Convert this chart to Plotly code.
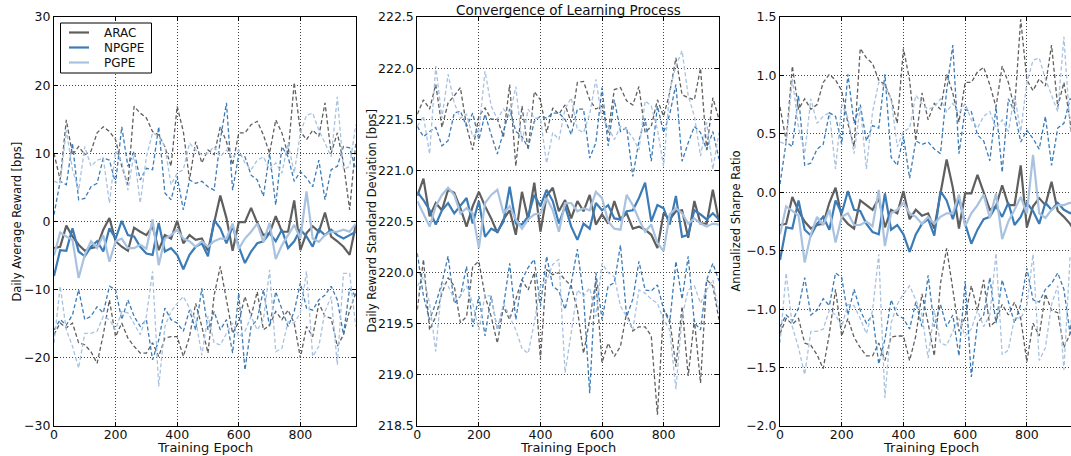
import plotly.graph_objects as go

# ---------------- data ----------------
epochs = list(range(0, 1000, 20))
algorithms = ["ARAC", "NPGPE", "PGPE"]

# Panel 1: Daily Average Reward [bps]
reward_arac_mean = [-3.9, -3.7, -0.6, -2.2, -3.4, -4.3, -3.9, -3.7, -1.2, 0.5,
                    -2.9, -3.7, -4.3, -0.9, -1.5, -2.0, -0.7, -4.2, -2.0, -2.5,
                    0.1, -3.2, -2.0, -2.7, -2.5, -4.3, -0.2, 3.8, 0.5, -4.3,
                    -0.1, -0.1, 2.0, -0.2, -2.0, -1.7, 0.8, -1.5, -1.5, 3.1,
                    -4.2, -1.7, -0.7, -1.5, 1.3, -2.2, -2.9, -3.7, -4.9, -0.5]
reward_arac_upper = [10.0, 6.1, 14.9, 9.8, 11.0, 9.8, 10.3, 13.0, 13.9, 13.2,
                     12.0, 8.1, 5.4, 16.9, 15.9, 15.2, 13.2, 12.7, 11.0, 8.1,
                     16.9, 13.2, 6.1, 11.7, 8.6, 10.5, 9.8, 13.9, 11.7, 8.3,
                     13.0, 13.0, 14.2, 14.7, 12.7, 10.0, 14.9, 13.0, 9.8, 20.4,
                     13.2, 12.0, 13.4, 12.5, 17.4, 10.0, 13.0, 8.6, 1.7, 11.5]
reward_arac_lower = [-16.6, -14.9, -15.6, -14.9, -17.8, -18.1, -19.1, -20.8, -16.6, -11.5,
                     -16.9, -14.9, -17.1, -18.3, -19.3, -19.3, -17.8, -19.8, -17.1, -16.9,
                     -16.9, -19.8, -16.9, -12.0, -15.4, -19.3, -10.8, -6.6, -11.5, -16.4,
                     -14.7, -11.0, -13.9, -10.3, -15.9, -15.2, -13.2, -14.4, -13.0, -14.9,
                     -20.0, -15.4, -16.9, -12.0, -13.9, -14.2, -18.3, -16.6, -13.0, -10.5]
reward_npgpe_mean = [-8.0, -4.2, -4.3, -1.0, -4.4, -5.1, -3.7, -2.9, -4.4, -1.0,
                     -2.5, 0.1, -2.0, -2.2, -3.7, -4.7, -4.9, -0.2, -4.4, -3.9,
                     -4.9, -7.0, -4.9, -3.7, -3.2, -5.1, 0.2, -1.0, -3.2, -0.7,
                     -3.7, -6.1, -4.4, -3.2, -2.9, -1.7, -2.9, -1.2, -3.9, -2.9,
                     -1.2, -2.2, -3.7, -1.2, -2.0, -1.2, -2.0, -2.5, -2.0, -1.5]
reward_npgpe_upper = [1.0, 5.9, 5.4, 11.5, 3.2, 3.4, 5.1, 5.6, 9.3, 9.0,
                      5.6, 13.9, 8.1, 10.3, 6.1, 7.8, 7.6, 13.9, 4.2, 3.2,
                      6.6, 1.7, 6.1, 5.6, 5.9, 5.1, 4.6, 12.0, 17.4, 4.6,
                      9.8, 9.5, 6.8, 6.1, 3.7, 10.0, 2.4, 11.0, 9.5, 5.9,
                      7.3, 6.4, 5.1, 9.0, 3.2, 7.6, 8.1, 11.0, 10.8, 7.6]
reward_npgpe_lower = [-15.9, -14.4, -15.2, -13.7, -10.0, -14.4, -13.9, -12.5, -13.4, -9.5,
                      -10.0, -14.4, -11.5, -13.9, -15.4, -14.4, -20.3, -17.4, -12.7, -14.4,
                      -14.9, -16.1, -13.0, -15.9, -9.8, -15.9, -13.2, -15.9, -14.4, -19.3,
                      -10.5, -21.8, -15.4, -14.4, -10.0, -15.4, -10.3, -13.0, -15.4, -13.2,
                      -9.0, -12.7, -13.0, -11.5, -10.8, -9.5, -11.5, -16.6, -9.8, -11.0]
reward_pgpe_mean = [-5.0, -1.6, -2.2, -2.7, -8.3, -4.9, -2.9, -3.9, -2.0, -5.9,
                    -2.9, -2.5, -3.9, -3.9, -3.4, -4.0, 0.3, -6.4, -2.5, -2.0,
                    -1.2, -2.5, -2.9, -3.7, -2.9, -3.7, -2.9, -2.5, -2.5, -0.3,
                    -4.0, -2.5, -1.5, -0.3, -3.0, -0.2, -5.5, -3.5, -2.0, -0.5,
                    -2.5, 4.4, -2.5, -3.0, -2.0, -1.5, -1.5, -1.2, -1.5, -0.3]
reward_pgpe_upper = [5.9, 5.6, 13.4, 7.6, 4.6, 11.0, 8.1, 9.0, 9.3, 2.7,
                     10.3, 8.8, 4.6, 10.0, 2.7, 9.5, 13.0, 12.5, 11.0, 5.4,
                     7.1, 7.6, 11.5, 10.5, 9.8, 10.0, 11.0, 9.5, 10.5, 9.3,
                     10.5, 8.6, 7.6, 9.0, 9.5, 7.6, 8.6, 7.1, 11.5, 7.1,
                     13.0, 15.6, 15.9, 13.4, 11.5, 9.5, 18.3, 7.6, 8.1, 14.2]
reward_pgpe_lower = [-17.8, -9.5, -15.9, -18.3, -21.5, -16.4, -16.4, -16.1, -13.9, -14.4,
                     -15.9, -13.2, -13.4, -14.9, -16.6, -13.9, -7.3, -24.2, -15.4, -13.2,
                     -12.0, -11.0, -12.7, -14.4, -19.6, -13.9, -17.8, -18.1, -16.4, -14.9,
                     -16.9, -16.1, -13.9, -15.9, -14.4, -7.1, -19.1, -18.6, -14.7, -14.9,
                     -13.4, -7.3, -19.8, -18.3, -13.2, -11.0, -21.0, -7.6, -7.6, -15.4]

# Panel 2: Daily Reward Standard Deviation [bps]
std_arac_mean = [220.75, 220.92, 220.55, 220.68, 220.61, 220.81, 220.78, 220.63, 220.45, 220.65,
                 220.79, 220.65, 220.53, 220.39, 220.52, 220.61, 220.37, 220.79, 220.52, 220.88,
                 220.40, 220.75, 220.83, 220.60, 220.71, 220.53, 220.70, 220.60, 220.76, 220.47,
                 220.57, 220.48, 220.70, 220.52, 220.58, 220.43, 220.45, 220.42, 220.37, 220.24,
                 220.58, 220.52, 220.60, 220.61, 220.34, 220.70, 220.48, 220.48, 220.81, 220.50]
std_arac_upper = [221.55, 221.69, 221.60, 221.84, 221.42, 221.66, 221.73, 221.81, 221.43, 221.20,
                  221.53, 221.61, 221.50, 221.50, 221.33, 221.84, 221.04, 221.63, 221.20, 221.77,
                  221.69, 221.37, 221.61, 221.55, 221.64, 221.47, 221.86, 221.87, 221.69, 221.60,
                  221.63, 221.37, 221.79, 221.81, 221.68, 221.64, 221.82, 221.37, 221.43, 221.69,
                  221.53, 221.76, 222.10, 221.74, 221.71, 221.69, 222.00, 221.20, 221.71, 221.50]
std_arac_lower = [219.64, 220.13, 219.44, 219.57, 219.80, 219.95, 219.87, 219.51, 219.57, 220.06,
                  220.11, 219.77, 219.57, 219.31, 219.67, 219.54, 219.74, 219.93, 219.83, 220.00,
                  219.15, 220.03, 219.98, 220.00, 219.93, 219.87, 219.64, 219.21, 219.54, 219.92,
                  219.12, 219.31, 219.18, 219.28, 219.61, 219.43, 219.47, 219.47, 219.38, 218.61,
                  219.64, 219.54, 219.08, 219.67, 218.99, 219.54, 218.92, 219.93, 219.87, 219.54]
std_npgpe_mean = [220.79, 220.71, 220.61, 220.47, 220.61, 220.68, 220.58, 220.66, 220.73, 220.48,
                  220.70, 220.35, 220.43, 220.40, 220.50, 220.84, 220.48, 220.47, 220.55, 220.76,
                  220.65, 220.81, 220.70, 220.48, 220.65, 220.45, 220.32, 220.48, 220.43, 220.68,
                  220.61, 220.66, 220.53, 220.52, 220.60, 220.61, 220.73, 220.88, 220.50, 220.66,
                  220.63, 220.47, 220.75, 220.35, 220.37, 220.61, 220.57, 220.52, 220.58, 220.52]
std_npgpe_upper = [221.43, 221.33, 221.38, 221.42, 221.24, 221.29, 221.56, 221.58, 221.43, 221.56,
                   221.30, 221.55, 221.35, 221.16, 221.38, 221.60, 221.38, 221.33, 221.22, 221.48,
                   221.53, 221.51, 221.56, 221.56, 221.50, 221.35, 221.60, 221.60, 221.12, 221.27,
                   221.81, 221.24, 221.69, 221.38, 221.42, 220.94, 221.29, 221.51, 221.09, 221.63,
                   221.37, 221.55, 221.84, 221.09, 221.27, 221.43, 221.37, 221.20, 221.38, 221.11]
std_npgpe_lower = [220.19, 219.77, 219.54, 219.70, 219.90, 220.16, 219.70, 219.77, 220.06, 219.47,
                   219.77, 219.38, 219.77, 219.44, 219.67, 220.09, 219.54, 219.93, 220.05, 220.13,
                   219.67, 220.16, 219.87, 219.82, 219.64, 219.90, 220.23, 219.77, 218.82, 220.00,
                   219.54, 219.87, 219.90, 220.27, 219.57, 219.74, 220.11, 219.83, 219.82, 219.88,
                   219.64, 219.51, 220.11, 219.74, 220.16, 219.51, 219.44, 219.93, 220.09, 219.92]
std_pgpe_mean = [220.70, 220.58, 220.45, 220.65, 220.76, 220.83, 220.76, 220.58, 220.63, 220.58,
                 220.24, 220.68, 220.76, 220.81, 220.58, 220.65, 220.52, 220.43, 220.52, 220.57,
                 220.58, 220.73, 220.61, 220.40, 220.68, 220.68, 220.60, 220.63, 220.61, 220.79,
                 220.73, 220.50, 220.43, 220.42, 220.76, 220.66, 220.52, 220.40, 220.47, 220.29,
                 220.21, 220.57, 220.63, 220.58, 220.48, 220.53, 220.48, 220.45, 220.48, 220.47]
std_pgpe_upper = [221.43, 221.53, 221.16, 222.02, 221.51, 221.94, 221.66, 221.51, 221.55, 221.33,
                  221.38, 221.97, 221.63, 221.50, 221.60, 221.53, 221.82, 221.27, 221.60, 221.51,
                  221.51, 221.07, 221.37, 221.30, 221.60, 221.71, 221.40, 221.37, 221.55, 221.89,
                  221.50, 221.43, 221.30, 221.43, 221.40, 221.32, 221.20, 221.68, 221.63, 221.40,
                  221.04, 221.79, 222.02, 222.17, 221.73, 221.53, 221.14, 221.47, 221.01, 221.37]
std_pgpe_lower = [219.87, 219.96, 219.70, 219.23, 219.90, 219.87, 219.74, 219.77, 219.87, 219.70,
                  219.44, 219.78, 219.77, 219.44, 219.70, 219.57, 219.44, 219.26, 219.21, 219.51,
                  219.87, 219.92, 220.08, 220.13, 219.02, 219.41, 219.83, 219.77, 219.85, 219.57,
                  220.09, 220.00, 219.96, 219.67, 219.57, 219.44, 219.83, 219.80, 219.74, 219.70,
                  219.54, 219.44, 218.86, 219.57, 219.83, 219.87, 219.70, 219.83, 219.93, 219.61]

# Panel 3: Annualized Sharpe Ratio
sharpe_arac_mean = [-0.28, -0.27, -0.04, -0.16, -0.25, -0.31, -0.28, -0.27, -0.09, 0.04,
                    -0.21, -0.27, -0.31, -0.07, -0.11, -0.15, -0.05, -0.30, -0.15, -0.18,
                    0.01, -0.23, -0.15, -0.20, -0.18, -0.31, -0.01, 0.28, 0.04, -0.31,
                    -0.01, -0.01, 0.15, -0.01, -0.15, -0.12, 0.06, -0.11, -0.11, 0.23,
                    -0.30, -0.12, -0.05, -0.11, 0.09, -0.16, -0.21, -0.27, -0.36, -0.04]
sharpe_arac_upper = [0.73, 0.44, 1.08, 0.71, 0.80, 0.71, 0.75, 0.94, 1.01, 0.96,
                     0.87, 0.59, 0.39, 1.23, 1.15, 1.10, 0.96, 0.92, 0.80, 0.59,
                     1.23, 0.96, 0.44, 0.85, 0.62, 0.76, 0.71, 1.01, 0.85, 0.60,
                     0.94, 0.94, 1.03, 1.07, 0.92, 0.73, 1.08, 0.94, 0.71, 1.48,
                     0.96, 0.87, 0.97, 0.91, 1.26, 0.73, 0.94, 0.62, 0.12, 0.83]
sharpe_arac_lower = [-1.21, -1.08, -1.13, -1.08, -1.29, -1.31, -1.39, -1.51, -1.21, -0.83,
                     -1.23, -1.08, -1.24, -1.33, -1.40, -1.40, -1.29, -1.44, -1.24, -1.23,
                     -1.23, -1.44, -1.23, -0.87, -1.12, -1.40, -0.78, -0.48, -0.83, -1.19,
                     -1.07, -0.80, -1.01, -0.75, -1.15, -1.10, -0.96, -1.05, -0.94, -1.08,
                     -1.45, -1.12, -1.23, -0.87, -1.01, -1.03, -1.33, -1.21, -0.94, -0.76]
sharpe_npgpe_mean = [-0.58, -0.30, -0.31, -0.07, -0.32, -0.37, -0.27, -0.21, -0.32, -0.07,
                     -0.18, 0.01, -0.15, -0.16, -0.27, -0.34, -0.36, -0.01, -0.32, -0.28,
                     -0.36, -0.51, -0.36, -0.27, -0.23, -0.37, 0.01, -0.07, -0.23, -0.05,
                     -0.27, -0.44, -0.32, -0.23, -0.21, -0.12, -0.21, -0.09, -0.28, -0.21,
                     -0.09, -0.16, -0.27, -0.09, -0.15, -0.09, -0.15, -0.18, -0.15, -0.11]
sharpe_npgpe_upper = [0.07, 0.43, 0.39, 0.83, 0.23, 0.25, 0.37, 0.41, 0.68, 0.65,
                      0.41, 1.01, 0.59, 0.75, 0.44, 0.57, 0.55, 1.01, 0.30, 0.23,
                      0.48, 0.12, 0.44, 0.41, 0.43, 0.37, 0.33, 0.87, 1.26, 0.33,
                      0.71, 0.69, 0.49, 0.44, 0.27, 0.73, 0.17, 0.80, 0.69, 0.43,
                      0.53, 0.46, 0.37, 0.65, 0.23, 0.55, 0.59, 0.80, 0.78, 0.55]
sharpe_npgpe_lower = [-1.15, -1.05, -1.10, -0.99, -0.73, -1.05, -1.01, -0.91, -0.97, -0.69,
                      -0.73, -1.05, -0.83, -1.01, -1.12, -1.05, -1.47, -1.26, -0.92, -1.05,
                      -1.08, -1.17, -0.94, -1.15, -0.71, -1.15, -0.96, -1.15, -1.05, -1.40,
                      -0.76, -1.58, -1.12, -1.05, -0.73, -1.12, -0.75, -0.94, -1.12, -0.96,
                      -0.65, -0.92, -0.94, -0.83, -0.78, -0.69, -0.83, -1.21, -0.71, -0.80]
sharpe_pgpe_mean = [-0.36, -0.12, -0.16, -0.20, -0.60, -0.36, -0.21, -0.28, -0.15, -0.43,
                    -0.21, -0.18, -0.28, -0.28, -0.25, -0.29, 0.02, -0.46, -0.18, -0.15,
                    -0.09, -0.18, -0.21, -0.27, -0.21, -0.27, -0.21, -0.18, -0.18, -0.02,
                    -0.29, -0.18, -0.11, -0.02, -0.22, -0.01, -0.40, -0.25, -0.15, -0.04,
                    -0.18, 0.32, -0.18, -0.22, -0.15, -0.11, -0.11, -0.09, -0.11, -0.02]
sharpe_pgpe_upper = [0.43, 0.41, 0.97, 0.55, 0.33, 0.80, 0.59, 0.65, 0.68, 0.20,
                     0.75, 0.64, 0.33, 0.73, 0.20, 0.69, 0.94, 0.91, 0.80, 0.39,
                     0.52, 0.55, 0.83, 0.76, 0.71, 0.73, 0.80, 0.69, 0.76, 0.68,
                     0.76, 0.62, 0.55, 0.65, 0.69, 0.55, 0.62, 0.52, 0.83, 0.52,
                     0.94, 1.13, 1.15, 0.97, 0.83, 0.69, 1.33, 0.55, 0.59, 1.03]
sharpe_pgpe_lower = [-1.29, -0.69, -1.15, -1.33, -1.56, -1.19, -1.19, -1.17, -1.01, -1.05,
                     -1.15, -0.96, -0.97, -1.08, -1.21, -1.01, -0.53, -1.76, -1.12, -0.96,
                     -0.87, -0.80, -0.92, -1.05, -1.42, -1.01, -1.29, -1.31, -1.19, -1.08,
                     -1.23, -1.17, -1.01, -1.15, -1.05, -0.52, -1.39, -1.35, -1.07, -1.08,
                     -0.97, -0.53, -1.44, -1.33, -0.96, -0.80, -1.52, -0.55, -0.55, -1.12]

x_ticks = [0, 200, 400, 600, 800]
reward_ticks = [-30, -20, -10, 0, 10, 20, 30]
std_ticks = [218.5, 219.0, 219.5, 220.0, 220.5, 221.0, 221.5, 222.0, 222.5]
sharpe_ticks = [-2.0, -1.5, -1.0, -0.5, 0.0, 0.5, 1.0, 1.5]

# ---------------- styles ----------------
COLORS = {"ARAC": "#5f5f5f", "NPGPE": "#3b7bb6", "PGPE": "#a8c2df"}
FONT = "DejaVu Sans"

panels = [
    {"mean": [reward_arac_mean, reward_npgpe_mean, reward_pgpe_mean],
     "upper": [reward_arac_upper, reward_npgpe_upper, reward_pgpe_upper],
     "lower": [reward_arac_lower, reward_npgpe_lower, reward_pgpe_lower]},
    {"mean": [std_arac_mean, std_npgpe_mean, std_pgpe_mean],
     "upper": [std_arac_upper, std_npgpe_upper, std_pgpe_upper],
     "lower": [std_arac_lower, std_npgpe_lower, std_pgpe_lower]},
    {"mean": [sharpe_arac_mean, sharpe_npgpe_mean, sharpe_pgpe_mean],
     "upper": [sharpe_arac_upper, sharpe_npgpe_upper, sharpe_pgpe_upper],
     "lower": [sharpe_arac_lower, sharpe_npgpe_lower, sharpe_pgpe_lower]},
]

fig = go.Figure()
for p, panel in enumerate(panels):
    xa = "x" if p == 0 else f"x{p+1}"
    ya = "y" if p == 0 else f"y{p+1}"
    for a, name in enumerate(algorithms):
        col = COLORS[name]
        fig.add_trace(go.Scatter(x=epochs, y=panel["mean"][a], mode="lines", name=name,
                                 line=dict(color=col, width=2.2), showlegend=False,
                                 xaxis=xa, yaxis=ya))
        for key in ("upper", "lower"):
            fig.add_trace(go.Scatter(x=epochs, y=panel[key][a], mode="lines", name=name,
                                     line=dict(color=col, width=1.3, dash="4px,2.5px"),
                                     showlegend=False, xaxis=xa, yaxis=ya))

W, H = 1071, 456
ML, MR, MT, MB = 54, 0, 17, 30
PW = W - ML - MR
PH = H - MT - MB


def px(xpix):
    return (xpix - ML) / PW


def py(ypix):
    return 1 - (ypix - MT) / PH


axis_common = dict(showline=True, linecolor="black", linewidth=1, ticks="inside", ticklen=4,
                   tickcolor="black", showgrid=True, gridcolor="#444444", gridwidth=0.8,
                   griddash="1px,2px", zeroline=False,
                   tickfont=dict(family=FONT, size=12.5, color="#111"))

domains = [(px(54), px(355.8)), (px(417.3), px(719)), (px(780), 1.0)]
xranges = [[0, 980], [0, 980], [0, 943]]
yranges = [[-30, 30], [218.5, 222.5], [-2.0, 1.5]]
yticks = [reward_ticks, std_ticks, sharpe_ticks]
yfmt = [None, ".1f", ".1f"]

layout = dict(width=W, height=H, margin=dict(l=ML, r=MR, t=MT, b=MB), autosize=False,
              plot_bgcolor="white", paper_bgcolor="white", showlegend=False,
              font=dict(family=FONT, color="#111"))
for p in range(3):
    xk = "xaxis" if p == 0 else f"xaxis{p+1}"
    yk = "yaxis" if p == 0 else f"yaxis{p+1}"
    layout[xk] = dict(axis_common, domain=list(domains[p]), range=xranges[p], tickvals=x_ticks,
                      mirror="allticks", ticklabelstandoff=-3,
                      anchor="y" if p == 0 else f"y{p+1}")
    ydict = dict(axis_common, domain=[0, 1], range=yranges[p], tickvals=yticks[p],
                 mirror="allticks" if p < 2 else False,
                 anchor="x" if p == 0 else f"x{p+1}")
    if yfmt[p]:
        ydict["tickformat"] = yfmt[p]
    layout[yk] = ydict

# legend box (drawn as in the reference: compact box in the upper left of panel 1)
shapes = [dict(type="rect", xref="paper", yref="paper", x0=px(60.5), x1=px(151.5),
               y0=py(73), y1=py(23), fillcolor="white", line=dict(color="black", width=1),
               layer="above")]
annotations = []
for a, name in enumerate(algorithms):
    yrow = 32.5 + a * 15
    shapes.append(dict(type="line", xref="paper", yref="paper", x0=px(69), x1=px(89),
                       y0=py(yrow), y1=py(yrow), line=dict(color=COLORS[name], width=2.2),
                       layer="above"))
    annotations.append(dict(text=name, x=px(102), y=py(yrow), xref="paper", yref="paper",
                            showarrow=False, xanchor="left", yanchor="middle",
                            font=dict(family=FONT, size=12, color="#111")))

annotations.append(dict(text="Convergence of Learning Process", x=px(568), y=py(10),
                        xref="paper", yref="paper", showarrow=False,
                        font=dict(family=FONT, size=13.5, color="#111"),
                        xanchor="center", yanchor="middle"))
for cx in (205, 568, 931):
    annotations.append(dict(text="Training Epoch", x=px(cx), y=py(447.5), xref="paper", yref="paper",
                            showarrow=False, font=dict(family=FONT, size=13, color="#111"),
                            xanchor="center", yanchor="middle"))
for cx, txt in ((16, "Daily Average Reward [bps]"),
                (371, "Daily Reward Standard Deviation [bps]"),
                (735, "Annualized Sharpe Ratio")):
    annotations.append(dict(text=txt, x=px(cx), y=py(221.5), xref="paper", yref="paper",
                            showarrow=False, textangle=-90,
                            font=dict(family=FONT, size=11.5, color="#111"),
                            xanchor="center", yanchor="middle"))
layout["annotations"] = annotations
layout["shapes"] = shapes

fig.update_layout(**layout)
# remove the browser's default 8px body margin so the figure fills the window exactly
fig.write_html("out.html", config={"displayModeBar": False},
               post_script="document.body.style.margin='0';document.body.style.overflow='hidden';")
